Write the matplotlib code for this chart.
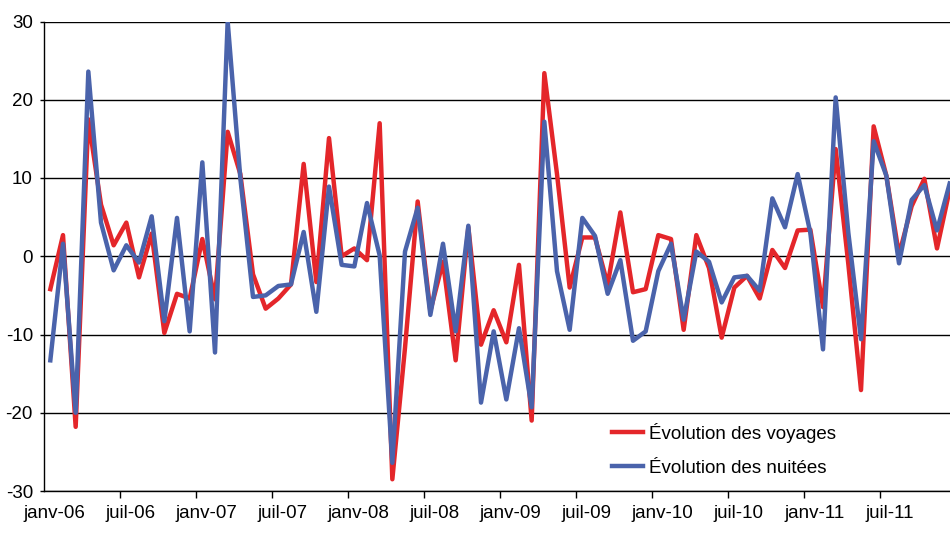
import numpy as np
import matplotlib
matplotlib.use('Agg')
import matplotlib.pyplot as plt

plt.rcParams['font.family'] = ['Liberation Sans', 'DejaVu Sans']
plt.rcParams['axes.unicode_minus'] = False

# Données mensuelles janv-06 .. déc-11 (évolution en %)
mois_labels = ['janv-06', 'juil-06', 'janv-07', 'juil-07', 'janv-08', 'juil-08',
               'janv-09', 'juil-09', 'janv-10', 'juil-10', 'janv-11', 'juil-11']

voyages = [-4.2, 2.7, -21.8, 17.5, 6.6, 1.4, 4.3, -2.7, 2.9, -9.8, -4.8, -5.4,
           2.2, -5.5, 15.9, 10.5, -2.3, -6.7, -5.4, -3.6, 11.8, -3.3, 15.1, 0.0,
           1.0, -0.5, 17.0, -28.5, -11.7, 7.0, -7.0, -0.7, -13.3, 3.7, -11.3, -6.9,
           -11.0, -1.1, -21.0, 23.4, 10.5, -4.0, 2.4, 2.4, -3.6, 5.6, -4.6, -4.2,
           2.7, 2.2, -9.4, 2.7, -1.5, -10.4, -4.0, -2.5, -5.4, 0.8, -1.5, 3.3,
           3.4, -6.5, 13.7, -1.0, -17.1, 16.6, 10.3, 0.2, 6.4, 9.9, 1.0, 8.5]

nuitees = [-13.3, 1.6, -20.0, 23.6, 4.3, -1.8, 1.4, -0.8, 5.1, -8.3, 4.9, -9.6,
           12.0, -12.3, 30.0, 10.0, -5.2, -5.0, -3.8, -3.6, 3.1, -7.1, 8.9, -1.1,
           -1.3, 6.8, 0.1, -26.4, 0.6, 6.2, -7.5, 1.6, -9.6, 3.9, -18.7, -9.6,
           -18.3, -9.2, -19.3, 17.2, -1.9, -9.4, 4.9, 2.6, -4.8, -0.5, -10.8, -9.6,
           -1.9, 1.6, -8.1, 0.6, -0.7, -5.9, -2.7, -2.5, -4.4, 7.4, 3.7, 10.5,
           3.0, -11.9, 20.3, 3.0, -10.6, 14.7, 10.3, -0.9, 7.2, 9.1, 3.3, 9.3]

rouge = '#E4262A'
bleu = '#4A63AB'

x = np.arange(len(voyages))

fig = plt.figure(figsize=(9.5, 5.35), dpi=100)
ax = fig.add_axes([44 / 950, 44 / 535, 912 / 950, 469.5 / 535])

ax.plot(x, voyages, color=rouge, lw=3.2, label='Évolution des voyages', zorder=3)
ax.plot(x, nuitees, color=bleu, lw=3.2, label='Évolution des nuitées', zorder=4)

ax.set_xlim(-0.5, len(voyages) - 0.5)
ax.set_ylim(-30, 30)

# grille horizontale
ax.set_yticks(range(-30, 31, 10))
ax.yaxis.grid(True, color='black', lw=1.0)
ax.set_axisbelow(True)

# étiquettes tous les 6 mois, graduations entre catégories
ax.set_xticks(x[::6] + 0.3)
ax.set_xticklabels(mois_labels)
ax.set_xticks(x[6::6] - 0.5, minor=True)
ax.tick_params(axis='x', which='major', length=0, pad=10, labelsize=13.5)
ax.tick_params(axis='x', which='minor', length=5, width=1, direction='out', color='black')
ax.tick_params(axis='y', length=3, width=1, direction='out', pad=5, labelsize=13.5)

for s in ['top', 'right']:
    ax.spines[s].set_visible(False)
for s in ['left', 'bottom']:
    ax.spines[s].set_color('black')
    ax.spines[s].set_linewidth(1.0)

ax.legend(loc='center left', bbox_to_anchor=(0.6228, 0.0873), frameon=False,
          fontsize=13.5, handlelength=1.65, handletextpad=0.3, labelspacing=0.9,
          borderpad=0, borderaxespad=0)

fig.savefig('out.png', dpi=100)
